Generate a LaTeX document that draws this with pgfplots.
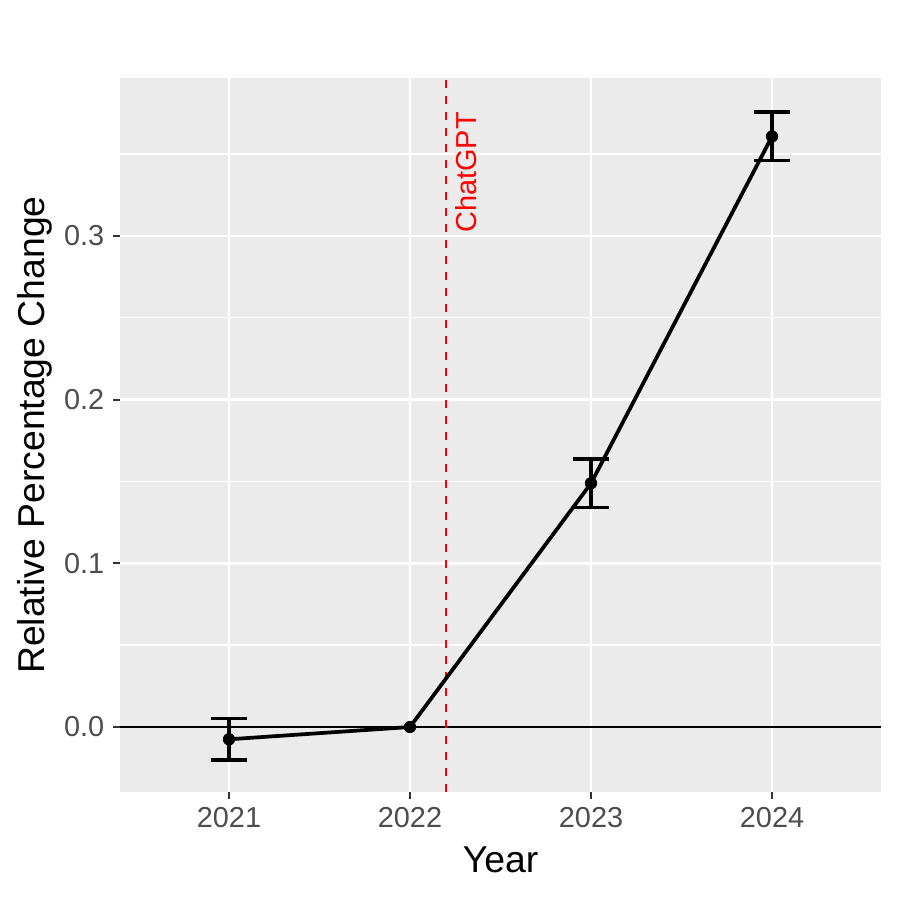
\documentclass[border=0pt]{standalone}
\usepackage{pgfplots}
\pgfplotsset{compat=1.18}
\usepackage{fontspec}
\setmainfont{Liberation Sans}
\definecolor{panelbg}{HTML}{EBEBEB}
\definecolor{ticklab}{HTML}{4D4D4D}
\definecolor{tickcol}{HTML}{333333}
\definecolor{ggred}{HTML}{FF0000}
\begin{document}
\begin{tikzpicture}
\path[use as bounding box] (-48bp,-43.2bp) rectangle (312bp,316.8bp);
\begin{axis}[
  at={(0,0)}, anchor=south west,
  scale only axis,
  width=304.4bp, height=285.6bp,
  xmin=2020.398, xmax=2024.602,
  ymin=-0.0397, ymax=0.3965,
  axis background/.style={fill=panelbg},
  axis line style={draw=none},
  xtick={2021,2022,2023,2024},
  ytick={0,0.1,0.2,0.3},
  minor ytick={0.05,0.15,0.25,0.35},
  grid=both,
  major grid style={white, line width=1.1bp},
  minor grid style={white, line width=0.55bp},
  minor tick length=0pt,
  major tick length=2.8bp,
  tick align=outside,
  tick pos=left,
  tick style={tickcol, line width=0.8bp},
  /pgf/number format/assume math mode=true,
  /pgf/number format/1000 sep={},
  yticklabel style={/pgf/number format/fixed, /pgf/number format/fixed zerofill, /pgf/number format/precision=1, font=\fontsize{11.6}{13}\selectfont, text=ticklab},
  xticklabel style={font=\fontsize{11.6}{13}\selectfont, text=ticklab},
  xlabel={Year},
  ylabel={Relative Percentage Change},
  xlabel style={at={(axis description cs:0.5,-0.11204)}, anchor=base, font=\fontsize{15}{18}\selectfont},
  ylabel style={at={(axis description cs:-0.09855,0.5)}, anchor=base, font=\fontsize{15}{18}\selectfont},
  clip=false,
]
\addplot[black, line width=0.6bp, forget plot] coordinates {(2020.398,0) (2024.602,0)};
\addplot[ggred, line width=0.8bp, dash pattern=on 3.2bp off 3.2bp, forget plot] coordinates {(2022.2,-0.0397) (2022.2,0.3965)};
\node[rotate=90, text=ggred, font=\fontsize{11.6}{13}\selectfont] at (axis cs:2022.312,0.3388) {ChatGPT};
\addplot[draw=none, mark=none, forget plot,
  error bars/.cd, y dir=both, y explicit, error mark options={black, line width=1.4bp, mark size=7.2bp, rotate=90},
  error bar style={line width=1.4bp, black}]
  coordinates {
  (2021,-0.0075) +- (0,0.0128)
  (2023,0.1489) +- (0,0.0149)
  (2024,0.3608) +- (0,0.0148)
  };
\addplot[black, line width=1.5bp, mark=*, mark size=2.3bp, mark options={solid, fill=black, line width=0.3bp}]
  coordinates {
  (2021,-0.0075)
  (2022,0)
  (2023,0.1489)
  (2024,0.3608)
  };
\end{axis}
\end{tikzpicture}
\end{document}
